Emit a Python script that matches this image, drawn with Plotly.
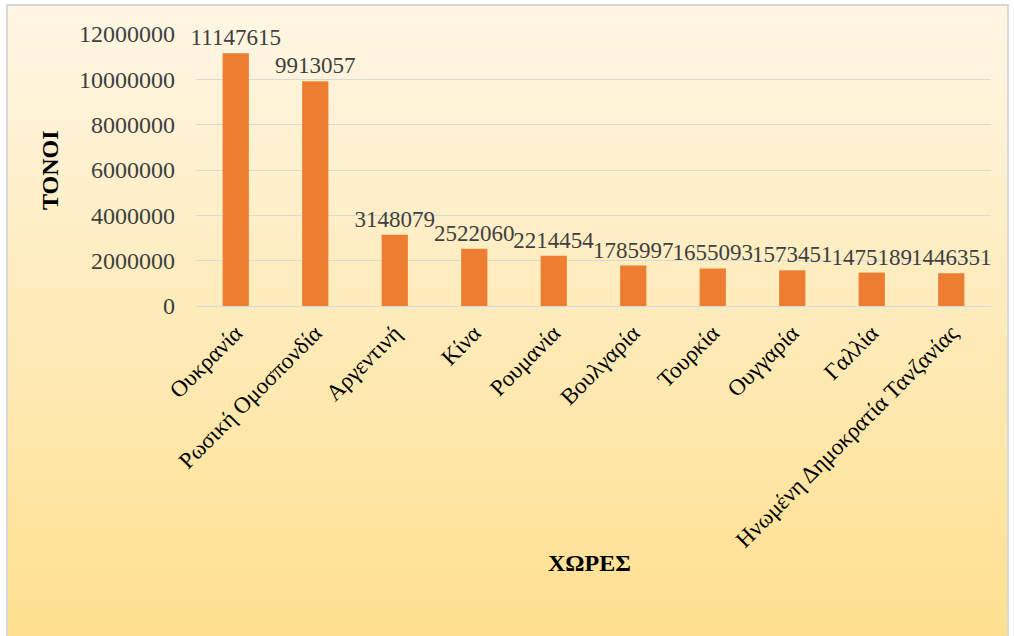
import zlib, struct, base64
import plotly.graph_objects as go

countries = ["Ουκρανία", "Ρωσική Ομοσπονδία", "Αργεντινή", "Κίνα", "Ρουμανία",
             "Βουλγαρία", "Τουρκία", "Ουγγαρία", "Γαλλία", "Ηνωμένη Δημοκρατία Τανζανίας"]
tonnes = [11147615, 9913057, 3148079, 2522060, 2214454,
          1785997, 1655093, 1573451, 1475189, 1446351]
y_ticks = [0, 2000000, 4000000, 6000000, 8000000, 10000000, 12000000]

SERIF = '"Times New Roman", "Liberation Serif", serif'

W, H = 1014, 636
L, R, T, B = 196, 23, 34, 330
PW, PH = W - L - R, H - T - B


def gradient_png(top, bottom, h=256):
    raw = b""
    for i in range(h):
        t = i / (h - 1)
        c = [round(top[k] + (bottom[k] - top[k]) * t) for k in range(3)]
        raw += b"\x00" + bytes(c)

    def chunk(tag, data):
        return (struct.pack(">I", len(data)) + tag + data +
                struct.pack(">I", zlib.crc32(tag + data) & 0xFFFFFFFF))

    png = (b"\x89PNG\r\n\x1a\n" +
           chunk(b"IHDR", struct.pack(">IIBBBBB", 1, h, 8, 2, 0, 0, 0)) +
           chunk(b"IDAT", zlib.compress(raw)) + chunk(b"IEND", b""))
    return "data:image/png;base64," + base64.b64encode(png).decode()


def px_x(p):
    return (p - L) / PW


def px_y(p):
    return 1 - (p - T) / PH


bg = gradient_png((255, 246, 228), (255, 224, 143))

fig = go.Figure(go.Bar(
    x=countries, y=tonnes,
    marker=dict(color="#ED7D31", line=dict(width=0)),
    text=[str(v) for v in tonnes], textposition="outside",
    textfont=dict(family=SERIF, size=23, color="#404040"),
    constraintext="none", cliponaxis=False,
))

fig.update_layout(
    width=W, height=H,
    margin=dict(l=L, r=R, t=T, b=B, pad=0),
    paper_bgcolor="white", plot_bgcolor="rgba(0,0,0,0)",
    bargap=0.67, showlegend=False,
    font=dict(family=SERIF, color="#404040"),
    xaxis=dict(tickangle=-45, showgrid=False, showline=False, ticks="",
               tickfont=dict(family=SERIF, size=23, color="#000000"),
               ticklabelstandoff=8),
    yaxis=dict(range=[0, 12000000], tickvals=y_ticks, ticktext=[str(v) for v in y_ticks],
               showgrid=True, gridcolor="#D9D9D9", gridwidth=1.3,
               zeroline=True, zerolinecolor="#D9D9D9", zerolinewidth=1.3,
               showline=False, ticks="",
               tickfont=dict(family=SERIF, size=24, color="#404040"),
               ticklabelstandoff=20),
    images=[dict(source=bg, xref="paper", yref="paper",
                 x=px_x(7), y=px_y(5), sizex=(1008 - 7) / PW, sizey=(640 - 5) / PH,
                 xanchor="left", yanchor="top", sizing="stretch", layer="below")],
    shapes=[dict(type="rect", xref="paper", yref="paper",
                 x0=px_x(7), x1=px_x(1008), y0=px_y(640), y1=px_y(5),
                 line=dict(color="#D9D9D9", width=2), fillcolor="rgba(0,0,0,0)",
                 layer="below")],
    annotations=[
        dict(text="<b>ΤΟΝΟΙ</b>", xref="paper", yref="paper", x=px_x(50), y=0.5,
             textangle=-90, showarrow=False, xanchor="center", yanchor="middle",
             font=dict(family=SERIF, size=24, color="#000000")),
        dict(text="<b>ΧΩΡΕΣ</b>", xref="paper", yref="paper", x=px_x(589), y=px_y(563),
             showarrow=False, xanchor="center", yanchor="middle",
             font=dict(family=SERIF, size=24, color="#000000")),
    ],
)

fig.write_html("out.html")
